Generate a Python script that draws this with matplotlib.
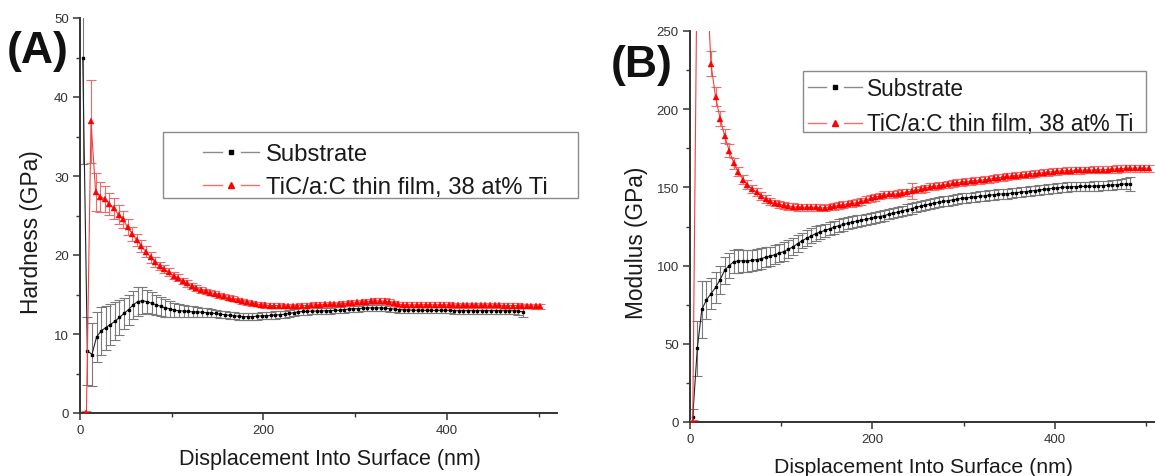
import numpy as np
import matplotlib
matplotlib.use("Agg")
import matplotlib.pyplot as plt
from matplotlib.lines import Line2D
from matplotlib.legend_handler import HandlerBase
from matplotlib.patches import Rectangle
from matplotlib.ticker import MultipleLocator

# ---------------- data ----------------
STEP_NM = 5.0

# Panel A: hardness (GPa)
A_sub_start = 3.0
A_sub_H = [45.0, 7.9, 7.4, 9.6, 10.4, 10.8, 11.2, 11.6, 12.1, 12.6,
           13.1, 13.7, 14.1, 14.2, 14.1, 13.9, 13.7, 13.5, 13.3, 13.2,
           13.0, 12.95, 12.9, 12.85, 12.8, 12.8, 12.75, 12.7, 12.65, 12.6,
           12.5, 12.45, 12.35, 12.3, 12.25, 12.2, 12.2, 12.2, 12.25, 12.3,
           12.3, 12.35, 12.4, 12.45, 12.5, 12.6, 12.7, 12.8, 12.85, 12.85,
           12.9, 12.9, 12.9, 12.95, 12.95, 13.0, 13.0, 13.1, 13.15, 13.2,
           13.2, 13.25, 13.3, 13.3, 13.3, 13.3, 13.25, 13.2, 13.15, 13.1,
           13.05, 13.05, 13.0, 13.0, 13.0, 13.0, 13.0, 13.0, 13.0, 13.0,
           13.0, 12.95, 12.95, 12.95, 12.95, 12.95, 12.95, 12.95, 12.95, 12.95,
           12.95, 12.95, 12.95, 12.95, 12.95, 12.9, 12.8]
A_sub_err = [13.5, 4.3, 4.0, 3.2, 3.0, 2.8, 2.6, 2.4, 2.2, 2.0,
             1.9, 1.8, 1.8, 1.7, 1.5, 1.4, 1.3, 1.2, 1.1, 1.0,
             0.9, 0.85, 0.8, 0.75, 0.7, 0.65, 0.6, 0.55, 0.5, 0.5,
             0.45, 0.45, 0.45, 0.45, 0.45, 0.45, 0.45, 0.45, 0.45, 0.45,
             0.45, 0.45, 0.45, 0.45, 0.45, 0.45, 0.45, 0.45, 0.45, 0.45,
             0.4, 0.4, 0.4, 0.4, 0.4, 0.4, 0.4, 0.4, 0.4, 0.4,
             0.4, 0.4, 0.4, 0.4, 0.4, 0.4, 0.4, 0.4, 0.4, 0.4,
             0.4, 0.4, 0.4, 0.4, 0.4, 0.4, 0.4, 0.4, 0.4, 0.4,
             0.4, 0.4, 0.4, 0.4, 0.4, 0.4, 0.4, 0.4, 0.4, 0.4,
             0.4, 0.4, 0.4, 0.4, 0.4, 0.45, 0.6]

A_film_start = 7.0
A_film_H = [0.0, 36.9, 28.0, 27.4, 27.1, 26.5, 25.9, 25.1, 24.5, 23.5,
            22.7, 21.9, 21.1, 20.4, 19.7, 19.1, 18.6, 18.2, 17.8, 17.4,
            17.1, 16.7, 16.4, 16.1, 15.85, 15.6, 15.4, 15.25, 15.1, 14.9,
            14.75, 14.6, 14.45, 14.3, 14.15, 14.0, 13.9, 13.8, 13.7, 13.65,
            13.6, 13.6, 13.6, 13.55, 13.55, 13.55, 13.55, 13.6, 13.6, 13.65,
            13.7, 13.7, 13.75, 13.75, 13.8, 13.8, 13.85, 13.9, 13.95, 14.0,
            14.05, 14.1, 14.15, 14.2, 14.2, 14.15, 14.05, 13.9, 13.75, 13.7,
            13.7, 13.7, 13.7, 13.7, 13.7, 13.7, 13.7, 13.7, 13.7, 13.7,
            13.65, 13.65, 13.65, 13.65, 13.65, 13.65, 13.65, 13.65, 13.65, 13.65,
            13.65, 13.6, 13.6, 13.6, 13.6, 13.55, 13.55, 13.55, 13.5, 13.5]
A_film_err = [0.3, 5.3, 2.4, 1.9, 1.6, 1.4, 1.3, 1.2, 1.1, 1.0,
              0.9, 0.8, 0.75, 0.7, 0.65, 0.6, 0.55, 0.5, 0.5, 0.45,
              0.45, 0.4, 0.4, 0.4, 0.4, 0.35, 0.35, 0.35, 0.35, 0.35,
              0.3, 0.3, 0.3, 0.3, 0.3, 0.3, 0.3, 0.3, 0.3, 0.3,
              0.3, 0.3, 0.3, 0.3, 0.3, 0.3, 0.3, 0.3, 0.3, 0.3,
              0.3, 0.3, 0.3, 0.3, 0.3, 0.3, 0.3, 0.3, 0.3, 0.3,
              0.3, 0.3, 0.3, 0.3, 0.35, 0.35, 0.35, 0.3, 0.3, 0.3,
              0.3, 0.3, 0.3, 0.3, 0.3, 0.3, 0.3, 0.3, 0.3, 0.3,
              0.3, 0.3, 0.3, 0.3, 0.3, 0.3, 0.3, 0.3, 0.3, 0.3,
              0.3, 0.3, 0.3, 0.3, 0.3, 0.3, 0.3, 0.3, 0.3, 0.3]

# Panel B: modulus (GPa)
B_sub_start = 3.0
B_sub_E = [3.4, 47.0, 72.0, 78.0, 82.0, 86.0, 91.0, 97.0, 100.0, 102.5,
           103.0, 103.0, 103.0, 103.3, 103.8, 104.5, 105.3, 106.0, 107.0, 108.0,
           109.0, 110.5, 112.0, 114.0, 116.0, 117.5, 119.0, 120.5, 121.5, 122.5,
           123.5, 124.5, 125.5, 126.3, 127.0, 127.8, 128.5, 129.0, 129.6, 130.2,
           130.8, 131.3, 132.0, 132.8, 133.5, 134.2, 135.0, 135.8, 136.5, 137.3,
           138.0, 138.7, 139.3, 140.0, 140.5, 141.0, 141.5, 142.0, 142.5, 143.0,
           143.3, 143.6, 144.0, 144.3, 144.6, 145.0, 145.3, 145.6, 145.8, 146.0,
           146.3, 146.6, 147.0, 147.3, 147.6, 148.0, 148.3, 148.7, 149.0, 149.4,
           149.7, 150.0, 150.2, 150.4, 150.5, 150.6, 150.6, 150.7, 150.8, 151.0,
           151.2, 151.3, 151.5, 151.7, 152.0, 152.2, 152.0]
B_sub_err = [5.0, 17.7, 18.0, 12.0, 10.0, 10.0, 9.0, 8.5, 8.0, 7.5,
             7.5, 7.0, 7.0, 6.8, 6.5, 6.5, 6.3, 6.0, 6.0, 6.0,
             5.8, 5.6, 5.5, 5.3, 5.0, 5.0, 4.8, 4.6, 4.5, 4.3,
             4.2, 4.0, 4.0, 3.9, 3.8, 3.7, 3.6, 3.5, 3.5, 3.4,
             3.4, 3.3, 3.3, 3.3, 3.3, 3.3, 3.3, 3.3, 3.3, 3.3,
             3.2, 3.2, 3.2, 3.2, 3.2, 3.2, 3.2, 3.2, 3.2, 3.2,
             3.1, 3.1, 3.1, 3.1, 3.1, 3.1, 3.1, 3.1, 3.1, 3.1,
             3.0, 3.0, 3.0, 3.0, 3.0, 3.0, 3.0, 3.0, 3.0, 3.0,
             3.0, 3.0, 3.0, 3.0, 3.0, 3.0, 3.0, 3.0, 3.0, 3.0,
             3.0, 3.0, 3.0, 3.0, 3.2, 3.5, 4.5]

B_film_start = 3.0
B_film_E = [0.0, 310.0, 420.0, 290.0, 229.0, 208.0, 194.0, 183.0, 173.5, 165.5,
            160.0, 155.0, 151.7, 149.0, 146.8, 144.7, 142.6, 141.0, 140.0, 139.3,
            138.6, 138.0, 137.6, 137.4, 137.3, 137.2, 137.2, 137.3, 137.0, 136.8,
            137.5, 138.0, 138.5, 139.0, 139.4, 139.8, 140.2, 141.0, 142.0, 143.0,
            143.8, 144.5, 145.2, 145.5, 145.5, 146.0, 146.5, 147.0, 147.6, 148.3,
            148.7, 149.5, 150.3, 150.7, 151.2, 151.5, 152.0, 152.5, 153.0, 153.3,
            153.6, 154.0, 154.3, 154.5, 154.8, 155.2, 155.7, 156.2, 156.6, 157.0,
            157.3, 157.6, 157.9, 158.2, 158.5, 158.8, 159.2, 159.5, 159.8, 160.0,
            160.3, 160.5, 160.7, 160.8, 160.9, 161.0, 161.1, 161.1, 161.2, 161.2,
            161.3, 161.4, 161.6, 161.8, 162.0, 162.1, 162.2, 162.3, 162.3, 162.3,
            162.2]
B_film_err = [1.0, 10.0, 10.0, 10.0, 8.0, 6.0, 5.0, 4.5, 4.0, 3.5,
              3.0, 3.0, 2.8, 2.6, 2.5, 2.5, 2.4, 2.3, 2.2, 2.2,
              2.2, 2.2, 2.2, 2.2, 2.2, 2.2, 2.2, 2.2, 2.2, 2.2,
              2.2, 2.2, 2.2, 2.2, 2.2, 2.2, 2.2, 2.2, 2.2, 2.2,
              2.2, 2.2, 2.2, 2.2, 2.2, 2.2, 2.2, 2.2, 5.0, 2.2,
              2.2, 2.2, 2.2, 2.2, 2.2, 2.2, 2.2, 2.2, 2.2, 2.2,
              2.2, 2.2, 2.2, 2.2, 2.2, 2.2, 2.2, 2.2, 2.2, 2.2,
              2.2, 2.2, 2.2, 2.2, 2.2, 2.2, 2.2, 2.2, 2.2, 2.2,
              2.2, 2.2, 2.2, 2.2, 2.2, 2.2, 2.2, 2.2, 2.2, 2.2,
              2.3, 2.3, 2.3, 2.3, 2.3, 2.3, 2.3, 2.3, 2.3, 2.3,
              2.3]

LABEL_SUB = "Substrate"
LABEL_FILM = "TiC/a:C thin film, 38 at% Ti"
X_LABEL = "Displacement Into Surface (nm)"
Y_LABEL_A = "Hardness (GPa)"
Y_LABEL_B = "Modulus (GPa)"

# ---------------- styling ----------------
plt.rcParams['font.family'] = ['Liberation Sans', 'DejaVu Sans']

W, H = 1155, 477
fig = plt.figure(figsize=(W / 100, H / 100), dpi=100)


def px_rect(l, t, r, b):
    return [l / W, 1 - b / H, (r - l) / W, (b - t) / H]


SPINE = '#333333'
TXT = '#1a1a1a'


def depth(start, vals):
    return start + STEP_NM * np.arange(len(vals))


def draw_sub(ax, x, y, e):
    ax.errorbar(x, y, yerr=e, fmt='none', ecolor='#7a7a7a', elinewidth=0.8,
                capsize=3.4, capthick=0.8, zorder=2)
    ax.plot(x, y, color='#222222', lw=0.8, zorder=3)
    ax.plot(x, y, ls='none', marker='s', ms=2.0, color='black', mec='black', zorder=4)


def draw_film(ax, x, y, e):
    ax.errorbar(x, y, yerr=e, fmt='none', ecolor='#f26b6b', elinewidth=0.8,
                capsize=3.6, capthick=0.8, zorder=5)
    ax.plot(x, y, color='#f04040', lw=0.8, zorder=6)
    ax.plot(x, y, ls='none', marker='^', ms=4.2, color='#ff0000', mec='#ff0000', mew=0.3, zorder=7)


def style_axes(ax, xmax, ymax, ymaj, ymin):
    ax.set_xlim(0, xmax)
    ax.set_ylim(0, ymax)
    for s in ('top', 'right'):
        ax.spines[s].set_visible(False)
    for s in ('left', 'bottom'):
        ax.spines[s].set_color(SPINE)
        ax.spines[s].set_linewidth(1.4)
    ax.xaxis.set_major_locator(MultipleLocator(200))
    ax.xaxis.set_minor_locator(MultipleLocator(100))
    ax.yaxis.set_major_locator(MultipleLocator(ymaj))
    ax.yaxis.set_minor_locator(MultipleLocator(ymin))
    ax.tick_params(which='major', direction='out', length=5, width=1.1, color=SPINE,
                   labelsize=9.5, labelcolor='#333333', pad=3)
    ax.tick_params(which='minor', direction='out', length=3, width=1.0, color=SPINE)


class GapLineHandler(HandlerBase):
    """Origin-style legend key: line segment, marker, line segment."""

    def __init__(self, lcolor, mcolor, marker, ms):
        super().__init__()
        self.lcolor, self.mcolor, self.marker, self.ms = lcolor, mcolor, marker, ms

    def create_artists(self, legend, orig_handle, xdescent, ydescent, width, height,
                       fontsize, trans):
        y = height / 2.0 - ydescent
        x0 = -xdescent
        x1 = x0 + width
        third = width / 3.0
        a = Line2D([x0, x0 + third], [y, y], color=self.lcolor, lw=1.0)
        b = Line2D([x1 - third, x1], [y, y], color=self.lcolor, lw=1.0)
        m = Line2D([x0 + width / 2.0], [y], ls='none', marker=self.marker,
                   ms=self.ms, color=self.mcolor, mec=self.mcolor)
        for art in (a, b, m):
            art.set_transform(trans)
        return [a, b, m]


def add_legend(ax, anchor_px, fs, hlen, hpad, lspace):
    h_sub = Line2D([], [])
    h_film = Line2D([], [])
    hmap = {h_sub: GapLineHandler('#8c8c8c', 'black', 's', 2.6),
            h_film: GapLineHandler('#f07070', '#ff0000', '^', 4.5)}
    leg = ax.legend([h_sub, h_film], [LABEL_SUB, LABEL_FILM], handler_map=hmap,
                    loc='upper left', bbox_to_anchor=(anchor_px[0] / W, 1 - anchor_px[1] / H),
                    bbox_transform=fig.transFigure, frameon=False, fontsize=fs,
                    borderpad=0, borderaxespad=0, handlelength=hlen, handletextpad=hpad,
                    labelspacing=lspace)
    for t in leg.get_texts():
        t.set_color(TXT)
    return leg


# ---------------- panel A ----------------
axA = fig.add_axes(px_rect(80, 19, 557, 414))
draw_sub(axA, depth(A_sub_start, A_sub_H), A_sub_H, A_sub_err)
draw_film(axA, depth(A_film_start, A_film_H), A_film_H, A_film_err)
style_axes(axA, 520, 50, 10, 5)
axA.set_xlabel(X_LABEL, fontsize=15.5, color=TXT)
axA.xaxis.set_label_coords((330 - 80) / 477, (414 - 460) / 395)
axA.xaxis.label.set_va('center')
axA.set_ylabel(Y_LABEL_A, fontsize=16.3, color=TXT)
axA.yaxis.set_label_coords((32 - 80) / 477, (414 - 232) / 395)
axA.yaxis.label.set_va('center')

add_legend(axA, (203, 144), 17.2, 2.36, 0.28, 0.48)
fig.add_artist(Rectangle((163 / W, 1 - 199 / H), (578 - 163) / W, (199 - 133) / H,
                         transform=fig.transFigure, fill=False, ec='#8a8a8a', lw=1.0))

# ---------------- panel B ----------------
axB = fig.add_axes(px_rect(690, 32, 1155, 423))
draw_sub(axB, depth(B_sub_start, B_sub_E), B_sub_E, B_sub_err)
draw_film(axB, depth(B_film_start, B_film_E), B_film_E, B_film_err)
style_axes(axB, 510, 250, 50, 25)
axB.set_xlabel(X_LABEL, fontsize=15.3, color=TXT)
axB.xaxis.set_label_coords((923.5 - 690) / 465, (423 - 468) / 391)
axB.xaxis.label.set_va('center')
axB.set_ylabel(Y_LABEL_B, fontsize=16.3, color=TXT)
axB.yaxis.set_label_coords((636 - 690) / 465, (423 - 243) / 391)
axB.yaxis.label.set_va('center')

add_legend(axB, (808, 78), 16.3, 2.4, 0.22, 0.55)
fig.add_artist(Rectangle((803 / W, 1 - 133 / H), (1146 - 803) / W, (133 - 72) / H,
                         transform=fig.transFigure, fill=False, ec='#8a8a8a', lw=1.0))

# ---------------- panel letters ----------------
fig.text(38 / W, 1 - 52 / H, "(A)", fontsize=32, fontweight='bold',
         ha='center', va='center', color='#111111')
fig.text(642 / W, 1 - 65 / H, "(B)", fontsize=32, fontweight='bold',
         ha='center', va='center', color='#111111')

fig.savefig("out.png", dpi=100)
